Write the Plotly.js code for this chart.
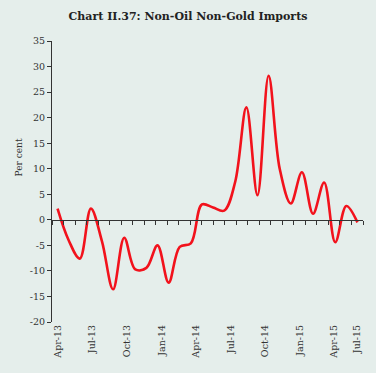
<!DOCTYPE html>
<html>
<head>
<meta charset="utf-8">
<script src="https://cdn.plot.ly/plotly-3.0.1.min.js"></script>
<style>html,body{margin:0;padding:0;background:#e5eeeb;}#chart{width:376px;height:373px;}</style>
</head>
<body>
<div id="chart"></div>
<script>
// Monthly categories Apr-13 .. Jul-15
const months = ["Apr-13","May-13","Jun-13","Jul-13","Aug-13","Sep-13","Oct-13","Nov-13","Dec-13",
  "Jan-14","Feb-14","Mar-14","Apr-14","May-14","Jun-14","Jul-14","Aug-14","Sep-14","Oct-14","Nov-14","Dec-14",
  "Jan-15","Feb-15","Mar-15","Apr-15","May-15","Jun-15","Jul-15"];
// Non-oil non-gold imports growth, per cent
const growth = [2.2, -4.0, -7.6, 2.2, -4.2, -13.6, -3.5, -9.7, -9.4,
  -5.0, -12.3, -5.3, -4.6, 3.0, 2.4, 1.8, 7.5, 22.0, 4.8, 28.2, 10.0,
  3.2, 9.3, 1.2, 7.3, -4.4, 2.7, -0.5];
// Tick labels shown on the category axis
const tickLabels = ["Apr-13","Jul-13","Oct-13","Jan-14","Apr-14","Jul-14","Oct-14","Jan-15","Apr-15","Jul-15"];
const tickSlots = [0,3,6,9,12,15,18,21,24,26];
const yTicks = [-20,-15,-10,-5,0,5,10,15,20,25,30,35];

const xIdx = months.map((_, i) => i);
const nSlots = 27;
const slotW = months.length / nSlots;
const slotEdges = Array.from({length: nSlots + 1}, (_, k) => -0.5 + k * slotW);
const labelPos = tickSlots.map(k => -0.5 + (k + 0.5) * slotW);

const font = "DejaVu Serif";
const trace = {
  x: xIdx, y: growth, text: months, type: "scatter", mode: "lines",
  line: {color: "#f2121c", width: 2.6, shape: "spline", smoothing: 1},
  hovertemplate: "%{text}: %{y}<extra></extra>", showlegend: false
};
const dummy = {x: [], y: [], xaxis: "x2", type: "scatter", showlegend: false, hoverinfo: "skip"};

const layout = {
  width: 376, height: 373,
  margin: {l: 52, r: 13, t: 41, b: 51, pad: 0},
  paper_bgcolor: "#e5eeeb", plot_bgcolor: "#e5eeeb",
  font: {family: font, color: "#333", size: 9.5},
  title: {text: "<b>Chart II.37: Non-Oil Non-Gold Imports</b>", x: 0.5, xref: "container",
    y: 0.956, yref: "container", yanchor: "middle", xanchor: "center",
    font: {family: font, size: 11, color: "#222"}},
  xaxis: {range: [-0.5, 27.5], showline: false, showgrid: false, zeroline: false,
    tickmode: "array", tickvals: labelPos, ticktext: tickLabels, tickangle: -90,
    ticks: "", tickfont: {family: font, size: 9.5, color: "#333"}},
  xaxis2: {range: [-0.5, 27.5], overlaying: "x", anchor: "free", position: 20/55,
    showline: true, linecolor: "#333", linewidth: 1, showgrid: false, zeroline: false,
    tickmode: "array", tickvals: slotEdges, ticks: "outside", ticklen: 4, tickwidth: 1,
    tickcolor: "#333", showticklabels: false},
  yaxis: {range: [-20, 35], showline: true, linecolor: "#333", linewidth: 1, showgrid: false,
    zeroline: false, tickmode: "array", tickvals: yTicks, ticktext: yTicks.map(v => String(v)),
    ticks: "outside", ticklen: 4, tickwidth: 1, tickcolor: "#333",
    tickfont: {family: font, size: 9.5, color: "#333"}},
  annotations: [{text: "Per cent", xref: "paper", yref: "paper", x: -0.105, y: 0.587,
    textangle: -90, showarrow: false, font: {family: font, size: 9, color: "#333"},
    xanchor: "center", yanchor: "middle"}]
};
Plotly.newPlot("chart", [trace, dummy], layout, {displayModeBar: false, staticPlot: true});
</script>
</body>
</html>
